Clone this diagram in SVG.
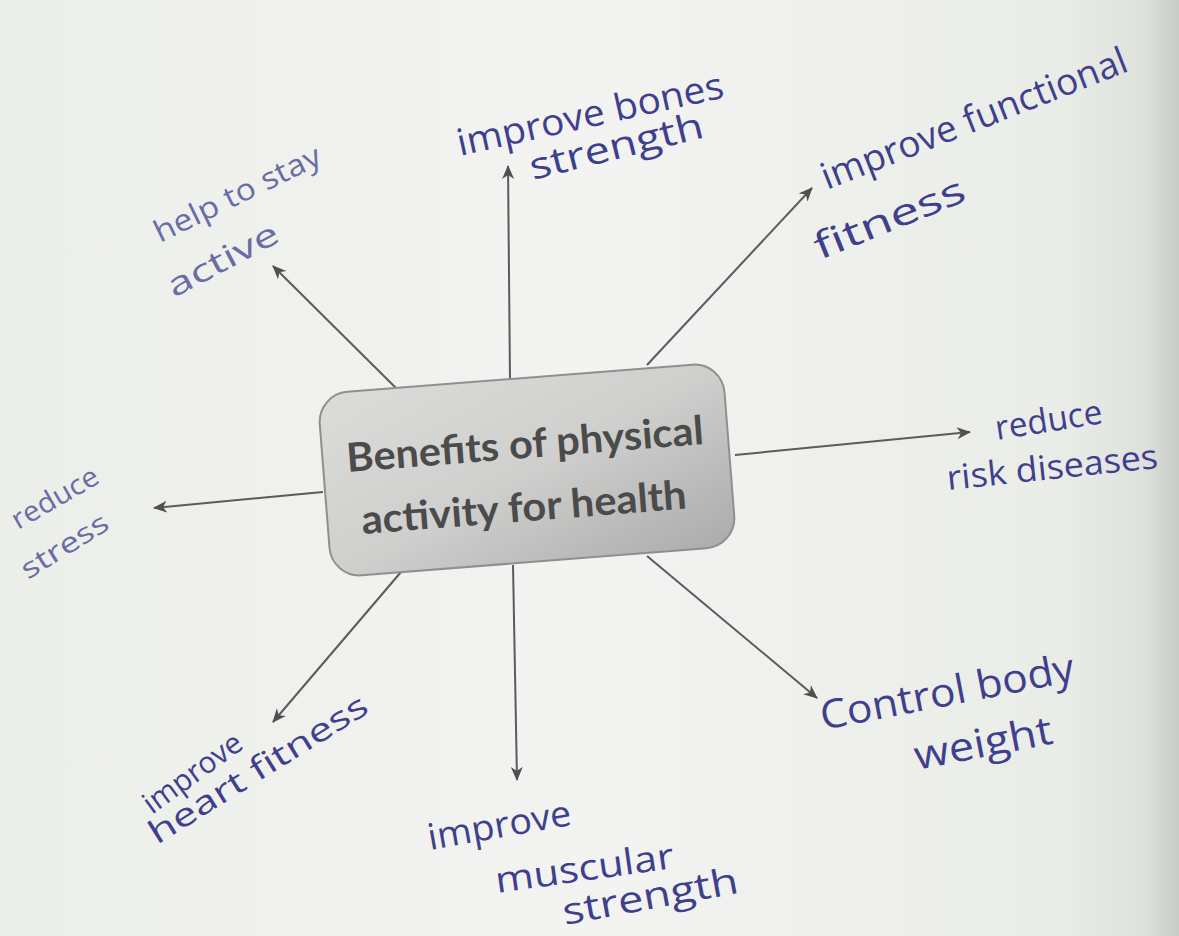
<svg xmlns="http://www.w3.org/2000/svg" width="1179" height="936" viewBox="0 0 1179 936">
  <defs>
    <linearGradient id="paper" x1="0" y1="0" x2="1" y2="0">
      <stop offset="0" stop-color="#eceeea"/>
      <stop offset="0.5" stop-color="#f3f4f1"/>
      <stop offset="0.9" stop-color="#eaece8"/>
      <stop offset="0.97" stop-color="#dfe1dd"/>
      <stop offset="1" stop-color="#c9cbc7"/>
    </linearGradient>
    <linearGradient id="boxfill" x1="0" y1="0" x2="1" y2="1">
      <stop offset="0" stop-color="#dcdcdb"/>
      <stop offset="0.5" stop-color="#cfcfce"/>
      <stop offset="1" stop-color="#ababab"/>
    </linearGradient>
    <marker id="arrow" markerUnits="userSpaceOnUse" markerWidth="16" markerHeight="14" refX="13" refY="6" orient="auto">
      <path d="M0,0 L14,6 L0,12 L4,6 z" fill="#4f504f"/>
    </marker>
    <style>
      .conn { stroke: #5a5b5a; stroke-width: 2; fill: none; marker-end: url(#arrow); }
      .hand { font-family: "Open Sans", "DejaVu Sans", sans-serif; fill: #3e408e; font-weight: 400; }
      .faint { fill: #6a6ca6; }
      .title { font-family: Lato, "Liberation Sans", sans-serif; font-weight: 700; fill: #4a4b4a; font-size: 40px; }
    </style>
  </defs>

  <rect x="0" y="0" width="1179" height="936" fill="url(#paper)"/>

  <g id="connectors">
    <line class="conn" x1="510" y1="380" x2="508" y2="166"/>
    <line class="conn" x1="647" y1="365" x2="812" y2="188"/>
    <line class="conn" x1="735" y1="455" x2="970" y2="432"/>
    <line class="conn" x1="647" y1="556" x2="817" y2="698"/>
    <line class="conn" x1="513" y1="565" x2="517" y2="780"/>
    <line class="conn" x1="401" y1="572" x2="273" y2="722"/>
    <line class="conn" x1="323" y1="492" x2="154" y2="508"/>
    <line class="conn" x1="400" y1="392" x2="273" y2="266"/>
  </g>

  <g id="center" transform="rotate(-4.5 527 470)">
    <rect x="324" y="378" width="406" height="184" rx="30" ry="30" fill="url(#boxfill)" stroke="#8f8f8e" stroke-width="2"/>
    <text class="title" x="348" y="458" textLength="358" lengthAdjust="spacingAndGlyphs">Benefits of physical</text>
    <text class="title" x="358" y="521" textLength="326" lengthAdjust="spacingAndGlyphs">activity for health</text>
  </g>

  <g id="n-bones">
    <text class="hand" font-size="37" transform="translate(460 156) rotate(-12.5)" textLength="272" lengthAdjust="spacingAndGlyphs">improve bones</text>
    <text class="hand" font-size="37" transform="translate(533 180) rotate(-14)" textLength="178" lengthAdjust="spacingAndGlyphs">strength</text>
  </g>

  <g id="n-functional">
    <text class="hand" font-size="37" transform="translate(827 190) rotate(-21.5)" textLength="326" lengthAdjust="spacingAndGlyphs">improve functional</text>
    <text class="hand" font-size="37" transform="translate(820 260) rotate(-22)" textLength="160" lengthAdjust="spacingAndGlyphs">fitness</text>
  </g>

  <g id="n-active">
    <text class="hand faint" font-size="30" transform="translate(160 243) rotate(-26)" textLength="182" lengthAdjust="spacingAndGlyphs">help to stay</text>
    <text class="hand faint" font-size="32" transform="translate(174 298) rotate(-28)" textLength="122" lengthAdjust="spacingAndGlyphs">active</text>
  </g>

  <g id="n-risk">
    <text class="hand" font-size="34" transform="translate(997 440) rotate(-9)" textLength="108" lengthAdjust="spacingAndGlyphs">reduce</text>
    <text class="hand" font-size="34" transform="translate(948 490) rotate(-6)" textLength="212" lengthAdjust="spacingAndGlyphs">risk diseases</text>
  </g>

  <g id="n-stress">
    <text class="hand faint" font-size="28" transform="translate(18 530) rotate(-30)" textLength="96" lengthAdjust="spacingAndGlyphs">reduce</text>
    <text class="hand faint" font-size="28" transform="translate(28 580) rotate(-32)" textLength="98" lengthAdjust="spacingAndGlyphs">stress</text>
  </g>

  <g id="n-heart">
    <text class="hand" font-size="30" transform="translate(152 815) rotate(-36)" textLength="115" lengthAdjust="spacingAndGlyphs">improve</text>
    <text class="hand" font-size="32" transform="translate(157 845) rotate(-32)" textLength="252" lengthAdjust="spacingAndGlyphs">heart  fitness</text>
  </g>

  <g id="n-muscular">
    <text class="hand" font-size="36" transform="translate(430 850) rotate(-10)" textLength="145" lengthAdjust="spacingAndGlyphs">improve</text>
    <text class="hand" font-size="36" transform="translate(497 893) rotate(-8)" textLength="180" lengthAdjust="spacingAndGlyphs">muscular</text>
    <text class="hand" font-size="37" transform="translate(565 925) rotate(-10.5)" textLength="178" lengthAdjust="spacingAndGlyphs">strength</text>
  </g>

  <g id="n-weight">
    <text class="hand" font-size="40" transform="translate(823 730) rotate(-11)" textLength="258" lengthAdjust="spacingAndGlyphs">Control body</text>
    <text class="hand" font-size="40" transform="translate(917 770) rotate(-11)" textLength="140" lengthAdjust="spacingAndGlyphs">weight</text>
  </g>
</svg>
